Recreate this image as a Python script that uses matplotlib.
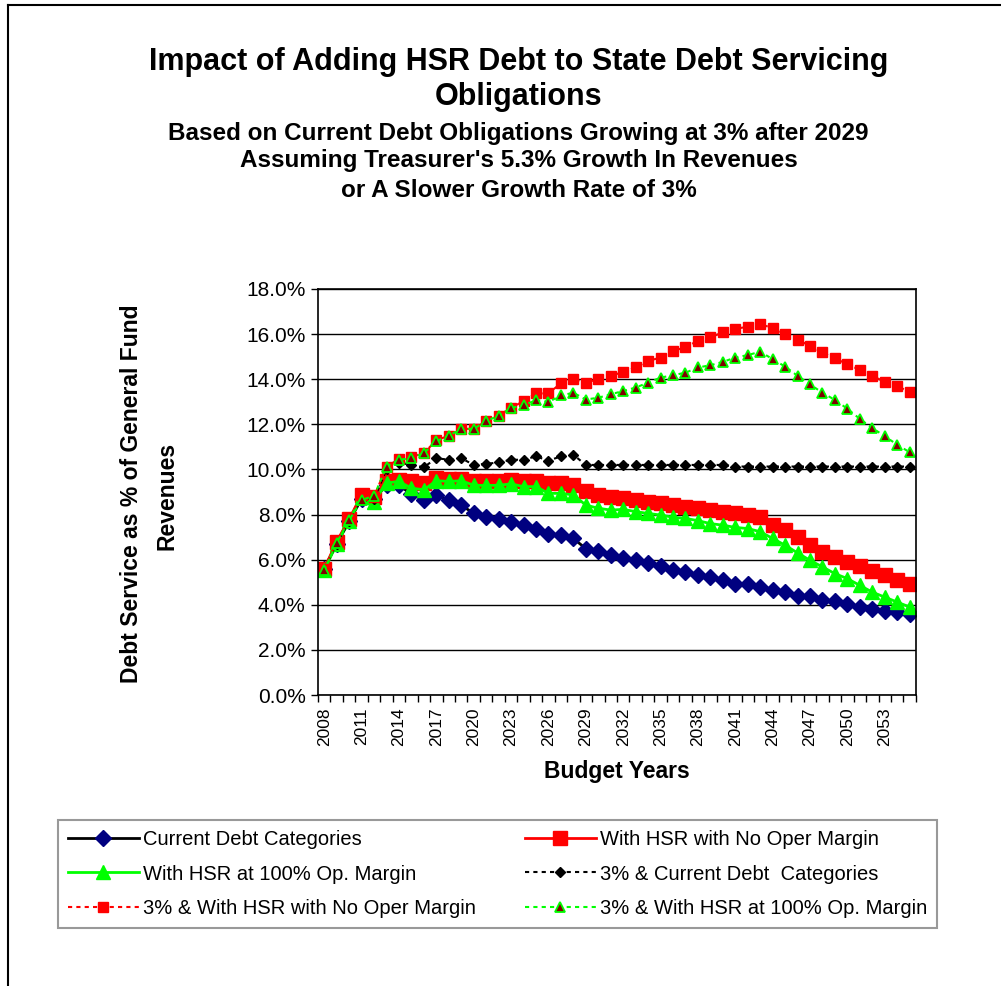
import matplotlib
matplotlib.use("Agg")
import matplotlib.pyplot as plt
import numpy as np
from matplotlib.lines import Line2D
from matplotlib.ticker import FuncFormatter

plt.rcParams["font.family"] = ["Liberation Sans", "DejaVu Sans"]

YEARS = list(range(2008, 2056))

# Debt service as % of general fund revenues
current_debt = [5.6, 6.7, 7.7, 8.7, 8.7, 9.3, 9.3, 8.9, 8.65, 8.87,
                8.65, 8.42, 8.05, 7.88, 7.79, 7.65, 7.53, 7.38, 7.16, 7.09,
                6.94, 6.49, 6.39, 6.22, 6.09, 6.0, 5.85, 5.7, 5.56, 5.45,
                5.3, 5.23, 5.11, 4.93, 4.9, 4.81, 4.67, 4.56, 4.41, 4.37,
                4.22, 4.16, 4.04, 3.92, 3.82, 3.74, 3.67, 3.6]
hsr_no_margin = [5.6, 6.8, 7.8, 8.87, 8.8, 9.47, 9.54, 9.47, 9.4, 9.6,
                 9.57, 9.57, 9.5, 9.47, 9.5, 9.54, 9.5, 9.5, 9.4, 9.4,
                 9.3, 9.06, 8.87, 8.76, 8.72, 8.65, 8.57, 8.5, 8.42, 8.35,
                 8.28, 8.2, 8.13, 8.05, 7.98, 7.88, 7.53, 7.31, 7.01, 6.64,
                 6.34, 6.12, 5.9, 5.7, 5.5, 5.3, 5.11, 4.93]
hsr_full_margin = [5.53, 6.7, 7.73, 8.8, 8.57, 9.4, 9.47, 9.17, 9.1, 9.5,
                   9.47, 9.5, 9.3, 9.29, 9.3, 9.36, 9.24, 9.24, 8.94, 8.94,
                   8.87, 8.42, 8.28, 8.2, 8.23, 8.13, 8.05, 7.98, 7.88, 7.83,
                   7.73, 7.6, 7.53, 7.43, 7.38, 7.24, 6.94, 6.64, 6.3, 5.97,
                   5.68, 5.38, 5.16, 4.86, 4.56, 4.34, 4.12, 3.9]
slow_current = [5.6, 6.7, 7.7, 8.7, 8.7, 10.0, 10.3, 10.2, 10.1, 10.5,
                10.43, 10.5, 10.2, 10.25, 10.31, 10.43, 10.43, 10.58, 10.39, 10.58,
                10.65, 10.2, 10.2, 10.2, 10.2, 10.2, 10.2, 10.2, 10.2, 10.2,
                10.2, 10.2, 10.2, 10.13, 10.13, 10.13, 10.13, 10.13, 10.13, 10.13,
                10.13, 10.13, 10.13, 10.13, 10.13, 10.13, 10.13, 10.13]
slow_no_margin = [5.6, 6.8, 7.8, 8.87, 8.8, 10.13, 10.46, 10.55, 10.73, 11.29,
                  11.5, 11.8, 11.8, 12.14, 12.39, 12.73, 13.03, 13.37, 13.37, 13.82,
                  14.03, 13.82, 14.03, 14.15, 14.32, 14.52, 14.81, 14.96, 15.26, 15.41,
                  15.71, 15.85, 16.08, 16.23, 16.33, 16.45, 16.26, 16.0, 15.75, 15.48,
                  15.19, 14.92, 14.67, 14.41, 14.15, 13.88, 13.7, 13.43]
slow_full_margin = [5.53, 6.75, 7.75, 8.65, 8.83, 10.13, 10.43, 10.5, 10.73, 11.25,
                    11.5, 11.8, 11.8, 12.14, 12.39, 12.73, 12.84, 13.08, 12.99, 13.28,
                    13.4, 13.1, 13.18, 13.33, 13.48, 13.63, 13.85, 14.07, 14.18, 14.29,
                    14.52, 14.62, 14.77, 14.96, 15.07, 15.22, 14.89, 14.56, 14.15, 13.77,
                    13.4, 13.08, 12.69, 12.24, 11.84, 11.47, 11.1, 10.76]

LIME = "#00ff00"
NAVY = "#000080"

fig = plt.figure(figsize=(10.01, 9.86), dpi=100)
ax = fig.add_axes([0.3177, 0.2951, 0.5973, 0.4118])

x = np.arange(len(YEARS))

h1, = ax.plot(x, current_debt, color="black", lw=2, marker="D", ms=8.5,
              mfc=NAVY, mec=NAVY, label="Current Debt Categories")
h2, = ax.plot(x, hsr_no_margin, color="red", lw=2, marker="s", ms=9.5,
              mfc="red", mec="red", label="With HSR with No Oper Margin")
h3, = ax.plot(x, hsr_full_margin, color=LIME, lw=2, marker="^", ms=10.5,
              mfc=LIME, mec=LIME, label="With HSR at 100% Op. Margin")
h4, = ax.plot(x, slow_current, color="black", lw=1.5, ls=(0, (2, 2)),
              marker="D", ms=5.5, mfc="black", mec="black",
              label="3% & Current Debt  Categories")
h5, = ax.plot(x, slow_no_margin, color="red", lw=1.5, ls=(0, (2, 2)),
              marker="s", ms=7, mfc="red", mec="red",
              label="3% & With HSR with No Oper Margin")
h6, = ax.plot(x, slow_full_margin, color=LIME, lw=1.5, ls=(0, (2, 2)),
              marker="^", ms=7, mfc="#800000", mec=LIME, mew=1.3,
              label="3% & With HSR at 100% Op. Margin")

ax.set_ylim(0, 18)
ax.set_yticks(np.arange(0, 18.1, 2))
ax.yaxis.set_major_formatter(FuncFormatter(lambda v, _: f"{v:.1f}%"))
ax.yaxis.grid(True, color="black", lw=1)
ax.set_axisbelow(True)
ax.tick_params(axis="y", direction="out", length=5, width=1,
               labelsize=15, pad=4)

ax.set_xlim(-0.5, len(YEARS) - 0.5)
ax.set_xticks(x[::3])
ax.set_xticklabels([str(y) for y in YEARS[::3]], rotation=90)
ax.set_xticks(np.arange(-0.5, len(YEARS), 1), minor=True)
ax.tick_params(axis="x", which="major", length=0, labelsize=12.5, pad=9)
ax.tick_params(axis="x", which="minor", direction="out", length=5, width=1)
for s in ax.spines.values():
    s.set_color("black")
    s.set_linewidth(1.2)

ax.set_xlabel("Budget Years", fontsize=16.5, fontweight="bold", labelpad=10)

# y label as two centred lines, placed like the reference
fig.text(0.131, 0.499, "Debt Service as % of General Fund", rotation=90,
         ha="center", va="center", fontsize=16.5, fontweight="bold")
fig.text(0.167, 0.497, "Revenues", rotation=90,
         ha="center", va="center", fontsize=16.5, fontweight="bold")

fig.text(0.518, 0.937, "Impact of Adding HSR Debt to State Debt Servicing",
         ha="center", va="center", fontsize=22, fontweight="bold")
fig.text(0.518, 0.902, "Obligations", ha="center", va="center",
         fontsize=22, fontweight="bold")
fig.text(0.518, 0.865, "Based on Current Debt Obligations Growing at 3% after 2029",
         ha="center", va="center", fontsize=17.5, fontweight="bold")
fig.text(0.518, 0.837, "Assuming Treasurer's 5.3% Growth In Revenues",
         ha="center", va="center", fontsize=17.5, fontweight="bold")
fig.text(0.518, 0.807, "or A Slower Growth Rate of 3%",
         ha="center", va="center", fontsize=17.5, fontweight="bold")

# outer chart frame (left and top edges visible)
fig.add_artist(Line2D([0.0075, 0.0075], [0, 0.995], color="black", lw=1.5,
                      transform=fig.transFigure))
fig.add_artist(Line2D([0.0075, 1.0], [0.995, 0.995], color="black", lw=1.5,
                      transform=fig.transFigure))

handles = [h1, h3, h5, h2, h4, h6]
leg = fig.legend(handles=handles, loc="upper left", ncol=2,
                 bbox_to_anchor=(0.058, 0.059, 0.878, 0.109),
                 mode="expand", fontsize=14.5, frameon=True, fancybox=False,
                 edgecolor="#808080", handlelength=3.5, borderaxespad=0,
                 borderpad=0.5, labelspacing=0.75, columnspacing=0.5,
                 handletextpad=0.2)
leg.get_frame().set_linewidth(1.5)

fig.savefig("out.png", dpi=100)
